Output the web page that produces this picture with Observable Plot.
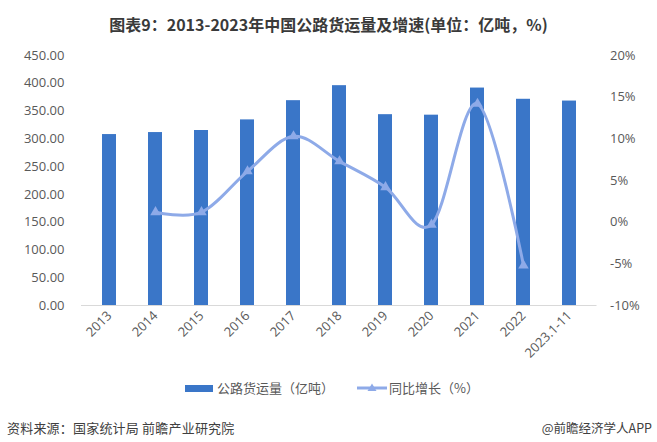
<!DOCTYPE html>
<html>
<head>
<meta charset="utf-8">
<script src="https://cdn.jsdelivr.net/npm/d3@7"></script>
<script src="https://cdn.jsdelivr.net/npm/@observablehq/plot@0.6"></script>
<style>
  html, body { margin: 0; padding: 0; background: #fff; }
  #wrap { position: relative; width: 657px; height: 442px; overflow: hidden; font-family: "Noto Sans CJK SC", "Noto Sans", sans-serif; }
  #title { height: 45px; box-sizing: border-box; padding-top: 13px; text-align: center; font-weight: bold; font-size: 16px; line-height: 22px; color: #3a3a3a; }
  .leg { position: absolute; font-size: 13px; color: #595959; line-height: 16px; }
  .foot { position: absolute; font-size: 13px; color: #404040; line-height: 16px; }
</style>
</head>
<body>
<div id="wrap">
  <div id="title">图表9：2013-2023年中国公路货运量及增速(单位：亿吨，%)</div>
  <div id="chart"></div>
  <div class="leg" style="left:185px;top:385px;width:28px;height:7px;background:#3a76c8;"></div>
  <div class="leg" style="left:217px;top:380px;">公路货运量（亿吨）</div>
  <svg class="leg" style="left:355px;top:381px;" width="34" height="14">
    <line x1="2" y1="7" x2="32" y2="7" stroke="#8eaae8" stroke-width="3"></line>
    <path d="M17,2.5 L21.5,10 L12.5,10 Z" fill="#8eaae8"></path>
  </svg>
  <div class="leg" style="left:389px;top:380px;">同比增长（%）</div>
  <div class="foot" style="left:7px;top:420px;letter-spacing:0.2px;">资料来源：国家统计局 前瞻产业研究院</div>
  <div class="foot" style="right:5px;top:420px;font-size:12.5px;">@前瞻经济学人APP</div>
</div>
<script>
const years = ["2013","2014","2015","2016","2017","2018","2019","2020","2021","2022","2023.1-11"];
const volume = [307.7, 311.3, 315.0, 334.1, 368.7, 395.7, 343.5, 342.6, 391.4, 371.2, 368.0];
const growthYears = ["2014","2015","2016","2017","2018","2019","2020","2021","2022"];
const growth = [1.2, 1.2, 6.1, 10.3, 7.3, 4.2, -0.3, 14.2, -5.2];
const leftTicks = [0, 50, 100, 150, 200, 250, 300, 350, 400, 450];
const rightTicks = [-10, -5, 0, 5, 10, 15, 20];

const pct = p => (p + 10) * 15;      // map % onto the left scale (−10%→0, 20%→450)
const unpct = v => v / 15 - 10;

const bars = years.map((y, i) => ({year: y, volume: volume[i]}));
const line = growthYears.map((y, i) => ({year: y, growth: growth[i]}));

const chart = Plot.plot({
  width: 657,
  height: 315,
  marginTop: 10,
  marginBottom: 55,
  marginLeft: 81,
  marginRight: 60.5,
  style: {fontFamily: "'Open Sans', 'Noto Sans', sans-serif", fontSize: "13px", color: "#595959", background: "#fff"},
  x: {domain: years, paddingInner: 0.7, paddingOuter: 0.35},
  y: {domain: [0, 450]},
  marks: [
    Plot.barY(bars, {x: "year", y: "volume", fill: "#3a76c8"}),
    Plot.ruleY([0], {stroke: "#d9d9d9", strokeWidth: 1}),
    Plot.line(line, {x: "year", y: d => pct(d.growth), stroke: "#8eaae8", strokeWidth: 3, curve: "cardinal"}),
    Plot.dot(line, {x: "year", y: d => pct(d.growth), symbol: "triangle", fill: "#8eaae8", r: 3.9}),
    Plot.axisY({ticks: leftTicks, tickFormat: d => d.toFixed(2), tickSize: 0, tickPadding: 17, label: null}),
    Plot.axisY({anchor: "right", ticks: rightTicks.map(pct), tickFormat: v => `${Math.round(unpct(v))}%`, tickSize: 0, tickPadding: 13, label: null}),
    Plot.axisX({tickRotate: -45, tickSize: 0, tickPadding: 8, label: null})
  ]
});
document.getElementById("chart").appendChild(chart);
</script>
</body>
</html>
